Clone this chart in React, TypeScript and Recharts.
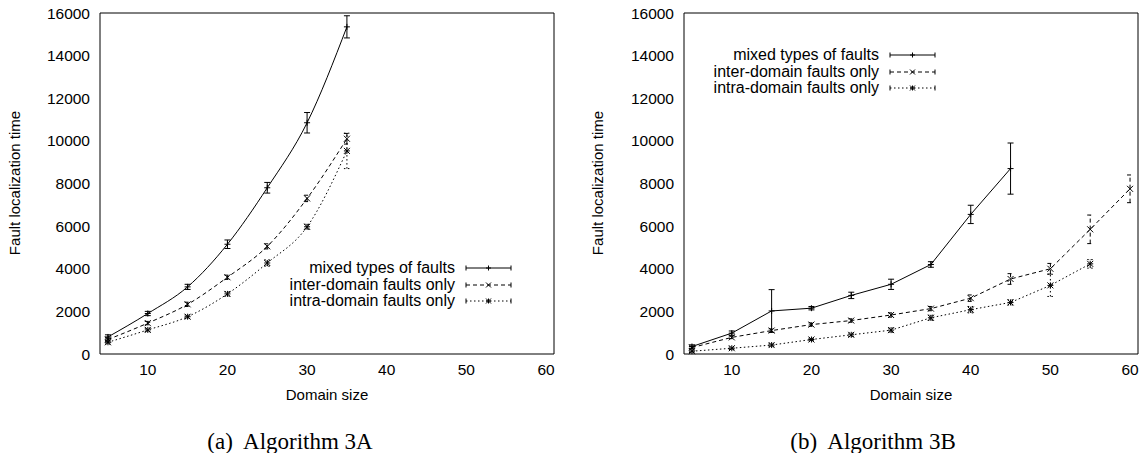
import { LineChart, Line, XAxis, YAxis, ErrorBar, Legend } from 'recharts';

const SANS = '"Liberation Sans", Arial, sans-serif';
const SERIF = '"Liberation Serif", "Times New Roman", serif';

// Eixos comuns aos dois gráficos
const X_TICKS = [10, 20, 30, 40, 50, 60];
const Y_TICKS = [0, 2000, 4000, 6000, 8000, 10000, 12000, 14000, 16000];
const X_DOMAIN = [4, 61];
const Y_DOMAIN = [0, 16000];

// (a) Algorithm 3A
const sizesA = [5, 10, 15, 20, 25, 30, 35];
const mixedA = [800, 1900, 3150, 5150, 7800, 10850, 15350];
const mixedAErr = [100, 100, 120, 200, 250, 480, 520];
const interA = [680, 1450, 2330, 3600, 5050, 7300, 10100];
const interAErr = [80, 80, 100, 100, 120, 150, 250];
const intraA = [550, 1130, 1750, 2820, 4270, 5970, 9530];
const intraAErr = [80, 80, 80, 100, 150, 120, 830];

// (b) Algorithm 3B
const sizesB = [5, 10, 15, 20, 25, 30, 35, 40, 45, 50, 55, 60];
const mixedB = [350, 980, 2020, 2150, 2750, 3270, 4200, 6550, 8700];
const mixedBErr = [80, 100, 1000, 80, 150, 240, 130, 430, 1200];
const interB = [300, 780, 1100, 1380, 1570, 1830, 2130, 2620, 3520, 4000, 5850, 7750];
const interBErr = [60, 60, 80, 80, 80, 100, 100, 150, 250, 250, 670, 650];
const intraB = [130, 270, 420, 680, 900, 1120, 1700, 2080, 2420, 3220, 4230];
const intraBErr = [60, 60, 60, 60, 80, 100, 120, 150, 120, 520, 200];

const LABELS = ['mixed types of faults', 'inter-domain faults only', 'intra-domain faults only'];

type Marker = 'plus' | 'cross' | 'star';

function markerPath(kind: Marker, cx: number, cy: number, s = 3) {
  const plus = `M${cx - s},${cy}h${2 * s}M${cx},${cy - s}v${2 * s}`;
  const cross = `M${cx - s},${cy - s}l${2 * s},${2 * s}M${cx - s},${cy + s}l${2 * s},${-2 * s}`;
  if (kind === 'plus') return plus;
  if (kind === 'cross') return cross;
  return plus + cross;
}

const toRows = (xs: number[], ys: number[], errs: number[]) =>
  ys.map((y, i) => ({ x: xs[i], y, err: errs[i] }));

interface Serie {
  name: string;
  rows: { x: number; y: number; err: number }[];
  dash?: string;
  marker: Marker;
}

const seriesA: Serie[] = [
  { name: LABELS[0], rows: toRows(sizesA, mixedA, mixedAErr), marker: 'plus' },
  { name: LABELS[1], rows: toRows(sizesA, interA, interAErr), dash: '4 3', marker: 'cross' },
  { name: LABELS[2], rows: toRows(sizesA, intraA, intraAErr), dash: '1.5 2.5', marker: 'star' },
];

const seriesB: Serie[] = [
  { name: LABELS[0], rows: toRows(sizesB, mixedB, mixedBErr), marker: 'plus' },
  { name: LABELS[1], rows: toRows(sizesB, interB, interBErr), dash: '4 3', marker: 'cross' },
  { name: LABELS[2], rows: toRows(sizesB, intraB, intraBErr), dash: '1.5 2.5', marker: 'star' },
];

// Legenda no estilo gnuplot: texto alinhado à direita + amostra com barras nas pontas
function GnuLegend({ series }: { series: Serie[] }) {
  return (
    <div style={{ display: 'flex', flexDirection: 'column', alignItems: 'flex-end', fontFamily: SANS, fontSize: 16, color: '#000' }}>
      {series.map((s) => (
        <div key={s.name} style={{ display: 'flex', alignItems: 'center', height: 16.5 }}>
          <span style={{ whiteSpace: 'nowrap', lineHeight: '16.5px' }}>{s.name}</span>
          <svg width={57} height={16} style={{ display: 'block' }}>
            <line x1={11} y1={8} x2={56} y2={8} stroke="#000" strokeWidth={1} strokeDasharray={s.dash} />
            <line x1={11} y1={5.5} x2={11} y2={10.5} stroke="#000" strokeWidth={1} />
            <line x1={56} y1={5.5} x2={56} y2={10.5} stroke="#000" strokeWidth={1} />
            <path d={markerPath(s.marker, 33.5, 8, 2.5)} stroke="#000" strokeWidth={1} fill="none" />
          </svg>
        </div>
      ))}
    </div>
  );
}

interface PanelProps {
  series: Serie[];
  width: number;
  marginRight: number;
  curve: 'monotone' | 'linear';
  legendLeft: number;
  legendTop: number;
}

function Panel({ series, width, marginRight, curve, legendLeft, legendTop }: PanelProps) {
  const tickStyle = { fill: '#000', fontSize: 15.5, fontFamily: SANS };
  return (
    <LineChart width={width} height={380} margin={{ top: 13, right: marginRight, bottom: 0, left: 0 }}>
      <XAxis
        xAxisId={0}
        dataKey="x"
        type="number"
        domain={X_DOMAIN}
        ticks={X_TICKS}
        interval={0}
        height={26}
        tick={tickStyle}
        tickLine={false}
        tickSize={0}
        tickMargin={10}
        axisLine={{ stroke: '#000' }}
      />
      {/* Eixos espelhados só para desenhar os ticks internos e a moldura */}
      <XAxis xAxisId="xb" type="number" domain={X_DOMAIN} ticks={X_TICKS} interval={0} mirror tick={false} tickSize={5} tickLine={{ stroke: '#000' }} axisLine={false} />
      <XAxis xAxisId="xt" orientation="top" type="number" domain={X_DOMAIN} ticks={X_TICKS} interval={0} mirror tick={false} tickSize={5} tickLine={{ stroke: '#000' }} axisLine={{ stroke: '#000' }} />
      <YAxis
        yAxisId={0}
        type="number"
        domain={Y_DOMAIN}
        ticks={Y_TICKS}
        interval={0}
        width={100}
        tick={tickStyle}
        tickLine={false}
        tickSize={0}
        tickMargin={10}
        axisLine={{ stroke: '#000' }}
      />
      <YAxis yAxisId="yl" type="number" domain={Y_DOMAIN} ticks={Y_TICKS} interval={0} mirror tick={false} tickSize={5} tickLine={{ stroke: '#000' }} axisLine={false} />
      <YAxis yAxisId="yr" orientation="right" type="number" domain={Y_DOMAIN} ticks={Y_TICKS} interval={0} mirror tick={false} tickSize={5} tickLine={{ stroke: '#000' }} axisLine={{ stroke: '#000' }} />

      <Legend
        layout="vertical"
        align="center"
        verticalAlign="middle"
        content={() => <GnuLegend series={series} />}
        wrapperStyle={{ position: 'absolute', left: legendLeft, top: legendTop, width: 300, height: 'auto' }}
      />

      {series.map((s) => (
        <Line
          key={s.name}
          data={s.rows}
          dataKey="y"
          name={s.name}
          type={curve}
          stroke="#000"
          strokeWidth={1}
          strokeDasharray={s.dash}
          dot={(p: any) => (
            <path key={`${s.marker}-${p.index}`} d={markerPath(s.marker, p.cx, p.cy)} stroke="#000" strokeWidth={1} fill="none" />
          )}
          activeDot={false}
          isAnimationActive={false}
        >
          <ErrorBar dataKey="err" direction="y" width={3} stroke="#000" strokeWidth={1} strokeDasharray={s.dash} isAnimationActive={false} />
        </Line>
      ))}
    </LineChart>
  );
}

const abs = (left: number, top: number, extra: React.CSSProperties = {}): React.CSSProperties => ({
  position: 'absolute',
  left,
  top,
  ...extra,
});

export default function App() {
  const axisTitle: React.CSSProperties = { fontFamily: SANS, fontSize: 15, color: '#000', textAlign: 'center', lineHeight: '18px', whiteSpace: 'nowrap' };
  const caption: React.CSSProperties = { fontFamily: SERIF, fontSize: 23, color: '#000', textAlign: 'center', lineHeight: '26px', whiteSpace: 'pre' };
  return (
    <div style={{ position: 'absolute', left: 0, top: 0, width: 1140, height: 453, background: '#fff', overflow: 'hidden' }}>
      <div style={abs(0, 0)}>
        <Panel series={seriesA} width={570} marginRight={16} curve="monotone" legendLeft={212} legendTop={260} />
      </div>
      <div style={abs(584, 0)}>
        <Panel series={seriesB} width={556} marginRight={2} curve="linear" legendLeft={52} legendTop={47} />
      </div>

      {/* Títulos dos eixos */}
      <div style={abs(15 - 100, 183 - 9, { ...axisTitle, width: 200, transform: 'rotate(-90deg)' })}>Fault localization time</div>
      <div style={abs(598 - 100, 183 - 9, { ...axisTitle, width: 200, transform: 'rotate(-90deg)' })}>Fault localization time</div>
      <div style={abs(327 - 100, 395 - 9, { ...axisTitle, width: 200 })}>Domain size</div>
      <div style={abs(911 - 100, 395 - 9, { ...axisTitle, width: 200 })}>Domain size</div>

      {/* Legendas das figuras */}
      <div style={abs(290 - 150, 442 - 13, { ...caption, width: 300 })}>{'(a)  Algorithm 3A'}</div>
      <div style={abs(873 - 150, 442 - 13, { ...caption, width: 300 })}>{'(b)  Algorithm 3B'}</div>
    </div>
  );
}
